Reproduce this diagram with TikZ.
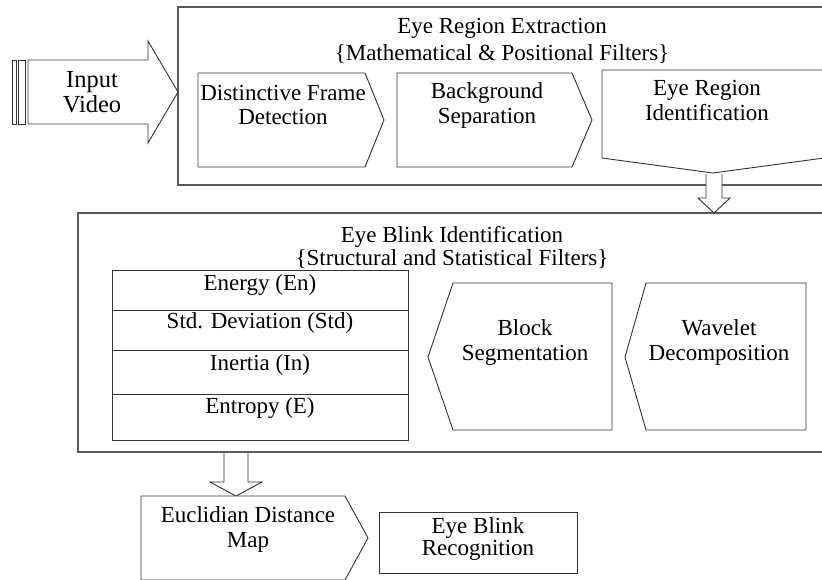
\documentclass[tikz,border=0pt]{standalone}
\usepackage{fontspec}
\setmainfont{Liberation Serif}
\begin{document}
\begin{tikzpicture}[x=1pt,y=-1pt,
  outer/.style={draw=black!65,line width=1.1pt},
  shp/.style={draw=black!80,line width=0.9pt,fill=white},
  txt/.style={anchor=base,inner sep=0pt,font=\fontsize{23}{26}\selectfont},
  bigtxt/.style={txt,font=\fontsize{24.5}{28}\selectfont}]
\useasboundingbox (0,0) rectangle (822,579);
\clip (0,0) rectangle (822,579);
% outer boxes
\draw[outer] (178,7) rectangle (830,185);
\draw[outer] (78,213) rectangle (830,452);
% input video arrow
\draw[shp] (12,60) rectangle (16,124);
\draw[shp] (18,60) rectangle (25,124);
\draw[shp] (28,60) -- (148,60) -- (148,41) -- (178,92) -- (148,143) -- (148,124) -- (28,124) -- cycle;
\node[bigtxt] (in1) at (92,87) {Input};
\node[bigtxt] (in2) at (92,112) {Video};
% box 1 title
\node[txt] (t1a) at (502,33) {Eye Region Extraction};
\node[txt] (t1b) at (502,60) {\{Mathematical \& Positional Filters\}};
% row 1 shapes
\draw[shp] (198,73) -- (365,73) -- (384,120) -- (365,167) -- (198,167) -- cycle;
\node[txt] (d1) at (283,100) {Distinctive Frame};
\node[txt] (d2) at (283,124) {Detection};
\draw[shp] (397,73) -- (572,73) -- (592,120) -- (572,167) -- (397,167) -- cycle;
\node[txt] (b1) at (487,98) {Background};
\node[txt] (b2) at (487,123) {Separation};
\draw[shp] (602,70) -- (824,70) -- (824,158) -- (713,173) -- (602,158) -- cycle;
\node[txt] (e1) at (707,95) {Eye Region};
\node[txt] (e2) at (707,120) {Identification};
% down arrow 1
\draw[shp] (706,174) -- (706,198) -- (698,198) -- (714,213) -- (730,198) -- (722,198) -- (722,174);
% box 2 title
\node[txt] (t2a) at (452,242) {Eye Blink Identification};
\node[txt] (t2b) at (452,265) {\{Structural and Statistical Filters\}};
% table
\draw[shp] (112,270) rectangle (408,440);
\draw[shp] (112,310) -- (408,310);
\draw[shp] (112,350) -- (408,350);
\draw[shp] (112,394) -- (408,394);
\node[txt] (f1) at (260,290) {Energy (En)};
\node[txt] (f2) at (260,328) {Std. Deviation (Std)};
\node[txt] (f3) at (260,370) {Inertia (In)};
\node[txt] (f4) at (260,413) {Entropy (E)};
% block segmentation / wavelet
\draw[shp] (428,357) -- (453,283) -- (612,283) -- (612,430) -- (453,430) -- cycle;
\node[txt] (s1) at (525,335) {Block};
\node[txt] (s2) at (525,360) {Segmentation};
\draw[shp] (625,357) -- (646,283) -- (806,283) -- (806,430) -- (646,430) -- cycle;
\node[txt] (w1) at (719,335) {Wavelet};
\node[txt] (w2) at (719,360) {Decomposition};
% down arrow 2
\draw[shp] (224,453) -- (224,482) -- (210,482) -- (236,496) -- (262,482) -- (248,482) -- (248,453);
% euclidian
\draw[shp] (141,496) -- (345,496) -- (368,538) -- (345,580) -- (141,580) -- cycle;
\node[txt] (u1) at (248,522) {Euclidian Distance};
\node[txt] (u2) at (248,547) {Map};
% recognition
\draw[shp] (379,512) rectangle (577,573);
\node[txt] (r1) at (478,533) {Eye Blink};
\node[txt] (r2) at (478,555) {Recognition};
\end{tikzpicture}
\end{document}
